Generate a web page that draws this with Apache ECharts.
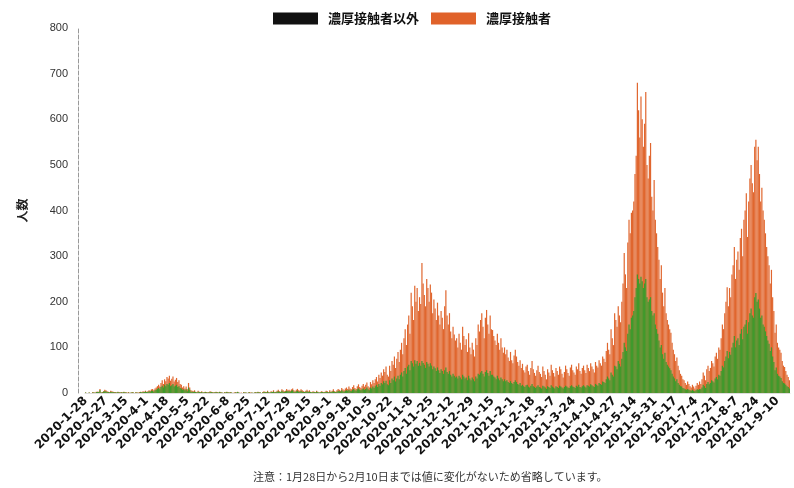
<!DOCTYPE html>
<html><head><meta charset="utf-8">
<script src="https://cdn.jsdelivr.net/npm/echarts@6/dist/echarts.min.js"></script>
<style>html,body{margin:0;padding:0;background:#fff}#c{width:794px;height:488px}</style>
</head><body><div id="c"></div>
<script>
const legendNames = ['濃厚接触者以外', '濃厚接触者'];
const yTicks = [0, 100, 200, 300, 400, 500, 600, 700, 800];
const firstDate = '2020-1-28';
const seriesStart = [2020, 2, 11];
const dayCount = 588;
const note = '注意：1月28日から2月10日までは値に変化がないため省略しています。';

// total daily count (top of orange bar)
const totalCases = [
1,0,0,1,0,0,2,1,1,3,
3,3,9,1,2,4,7,6,4,3,
2,5,4,3,2,2,1,3,2,1,
2,1,3,2,1,1,2,0,1,2,
1,0,2,1,1,2,3,2,4,3,
5,3,4,6,5,8,9,6,10,12,
15,18,14,22,28,20,30,26,35,32,
38,27,31,36,25,29,33,24,28,20,
18,12,15,10,14,8,22,12,6,5,
4,6,3,2,5,3,2,4,1,2,
3,2,1,2,4,3,2,1,2,3,
2,1,3,2,1,0,2,1,3,2,
1,2,1,0,1,2,1,3,1,0,
1,0,2,1,1,0,1,2,1,1,
0,1,2,1,3,2,1,0,2,4,
3,2,5,2,1,4,3,6,2,3,
5,7,4,3,8,6,4,5,9,6,
7,5,8,10,6,4,7,9,6,5,
8,6,4,3,5,7,4,6,3,2,
4,3,2,5,3,1,2,4,3,2,
3,5,4,2,6,3,5,8,4,3,
6,9,7,5,11,8,6,10,12,9,
14,10,8,13,17,11,9,15,19,13,
11,16,20,14,18,23,15,12,24,19,
28,22,30,35,25,40,33,45,38,52,
46,58,40,36,60,48,70,62,80,55,
75,90,68,95,110,85,120,140,105,150,
170,130,220,190,160,235,200,230,180,210,
195,285,240,215,190,250,230,200,238,220,
175,205,185,160,198,170,150,180,165,140,
190,225,170,150,175,135,120,145,128,115,
120,100,130,110,95,145,125,105,118,90,
131,100,85,110,95,80,120,105,150,135,
160,175,145,120,165,182,150,130,170,140,
138,125,115,105,130,110,95,120,100,88,
100,85,95,78,70,90,72,65,82,95,
80,68,60,72,55,64,50,45,58,62,
48,40,55,70,52,44,38,50,60,46,
42,35,58,48,40,30,52,45,38,62,
50,44,36,55,48,40,58,52,42,34,
46,60,52,44,38,56,62,50,45,40,
58,52,65,48,42,55,60,50,44,62,
55,48,65,58,52,45,68,60,56,72,
65,60,80,75,68,92,110,95,85,140,
120,105,175,160,145,190,170,155,200,240,
307,260,230,330,380,350,395,400,420,480,
520,680,620,560,650,600,540,590,660,500,
470,520,548,430,400,467,380,350,320,292,
250,280,220,190,230,175,160,150,140,132,
110,95,85,70,78,60,50,42,38,30,
28,22,18,25,20,15,12,18,14,10,
16,22,18,25,20,30,45,38,28,52,
60,48,55,70,65,58,80,88,75,100,
95,120,150,140,175,200,232,190,230,210,
260,280,320,250,292,310,270,340,360,300,
380,400,438,342,420,470,500,460,440,540,
555,510,540,480,420,450,400,380,350,320,
300,280,240,270,210,180,132,150,110,100,
95,88,70,60,57,48,40,35,28
];

// non-close-contact count (green, drawn over the bottom of the total bar)
const nonContactCases = [
1,0,0,1,0,0,1,1,0,2,
2,2,6,1,1,3,4,4,2,2,
1,3,2,2,1,1,1,2,1,1,
1,1,2,1,1,0,1,0,1,1,
1,0,1,1,0,1,2,1,2,2,
3,2,2,4,3,5,5,3,6,7,
9,11,8,13,16,12,18,15,20,18,
22,15,17,20,14,16,18,13,15,11,
10,7,8,6,8,4,12,7,3,3,
2,3,2,1,3,2,1,2,1,1,
2,1,1,1,2,2,1,1,1,2,
1,1,2,1,1,0,1,1,2,1,
1,1,1,0,0,1,1,2,1,0,
0,0,1,1,1,0,1,1,0,1,
0,1,1,1,2,1,1,0,1,2,
2,1,3,1,1,2,2,3,1,2,
3,4,2,2,5,3,2,3,5,4,
4,3,5,6,3,2,4,5,3,3,
5,3,2,2,3,4,2,3,2,1,
2,2,1,3,2,1,1,2,2,1,
2,3,2,1,3,2,3,4,2,2,
3,5,4,3,6,4,3,5,6,5,
7,5,4,7,9,6,5,8,10,7,
6,8,10,7,9,12,8,6,12,10,
14,11,15,18,13,20,16,22,19,26,
22,27,19,17,28,22,32,28,36,25,
32,38,30,40,45,36,48,55,42,58,
62,50,70,65,58,72,64,70,60,66,
60,70,66,62,55,68,64,58,65,60,
52,58,54,48,56,50,44,52,48,42,
50,56,46,42,48,40,36,42,38,34,
36,32,38,34,30,40,36,32,34,28,
38,32,28,34,30,26,36,32,42,40,
45,48,42,36,46,50,44,38,48,40,
40,36,34,30,38,32,28,34,30,26,
30,26,28,24,22,26,22,20,24,28,
24,20,18,22,16,18,15,13,17,18,
14,12,16,20,15,13,11,14,17,13,
12,10,16,14,12,9,15,13,11,17,
14,12,10,15,13,11,16,14,12,10,
13,16,14,12,11,15,17,14,13,11,
16,14,18,13,12,15,17,14,12,17,
16,14,19,17,15,13,20,18,16,22,
20,18,25,24,22,30,36,32,28,45,
40,36,60,58,52,70,64,58,75,90,
110,100,92,130,150,140,165,170,180,210,
230,260,250,240,255,245,230,240,250,210,
200,205,210,180,170,175,150,140,130,115,
100,105,85,75,88,68,62,58,54,50,
42,36,32,26,30,22,18,15,14,11,
10,8,7,9,7,6,5,7,5,4,
6,8,7,9,8,12,18,15,11,20,
24,19,22,28,26,23,32,35,30,40,
38,48,60,56,70,80,92,76,90,84,
100,110,125,100,115,120,105,130,140,118,
145,150,160,130,155,175,185,170,165,210,
219,200,205,185,165,170,150,145,135,125,
115,108,92,100,80,68,50,56,42,38,
36,33,26,22,21,18,15,13,10
];

// date categories: first day, then consecutive days from 2020-2-11
const categories = [firstDate];
{
  const t0 = Date.UTC(seriesStart[0], seriesStart[1] - 1, seriesStart[2]);
  for (let i = 0; i < dayCount; i++) {
    const d = new Date(t0 + i * 86400000);
    categories.push(d.getUTCFullYear() + '-' + (d.getUTCMonth() + 1) + '-' + d.getUTCDate());
  }
}

const chart = echarts.init(document.getElementById('c'), null, {renderer: 'canvas'});
chart.setOption({
  animation: false,
  backgroundColor: '#ffffff',
  textStyle: {fontFamily: '"Noto Sans CJK JP", "Noto Sans", sans-serif'},
  legend: {
    top: 7,
    left: 268,
    icon: 'rect',
    itemWidth: 45,
    itemHeight: 12,
    itemGap: 12,
    textStyle: {fontSize: 13, color: '#111', fontWeight: 'bold', padding: [0, 0, 0, 5]},
    data: [
      {name: legendNames[0], itemStyle: {color: '#111111'}},
      {name: legendNames[1], itemStyle: {color: '#e0622a'}}
    ]
  },
  graphic: [{
    type: 'text', left: 253, top: 471,
    style: {text: note, fontSize: 11, fill: '#333', fontFamily: '"Noto Sans CJK JP", sans-serif'}
  }],
  grid: {left: 85, right: 4, top: 28, bottom: 95},
  xAxis: {
    type: 'category',
    data: categories,
    boundaryGap: true,
    axisLine: {show: true, lineStyle: {color: '#dddddd'}},
    axisTick: {show: false},
    axisLabel: {
      interval: 16, rotate: 45, fontSize: 12, color: '#111', fontWeight: 'bold', margin: 6,
      fontFamily: '"DejaVu Sans", sans-serif'
    },
    splitLine: {show: false}
  },
  yAxis: {
    type: 'value',
    min: yTicks[0], max: yTicks[yTicks.length - 1], interval: 100,
    offset: 7,
    name: '人数',
    nameLocation: 'middle',
    nameRotate: 90,
    nameGap: 50,
    nameTextStyle: {fontSize: 12, color: '#222', fontWeight: 'bold'},
    axisLine: {show: true, lineStyle: {color: '#999', type: 'dashed'}},
    axisTick: {show: false},
    axisLabel: {fontSize: 11, color: '#333', margin: 10, fontFamily: '"Liberation Sans", Arial, sans-serif'},
    splitLine: {show: false}
  },
  series: [
    {
      name: legendNames[1], type: 'bar', data: totalCases,
      barCategoryGap: '0%', barGap: '-100%',
      itemStyle: {color: '#e0662e'}, z: 2
    },
    {
      name: legendNames[0], type: 'bar', data: nonContactCases,
      barCategoryGap: '0%', barGap: '-100%',
      itemStyle: {color: '#3f9a2c'}, z: 3
    }
  ]
});
</script>
</body></html>
